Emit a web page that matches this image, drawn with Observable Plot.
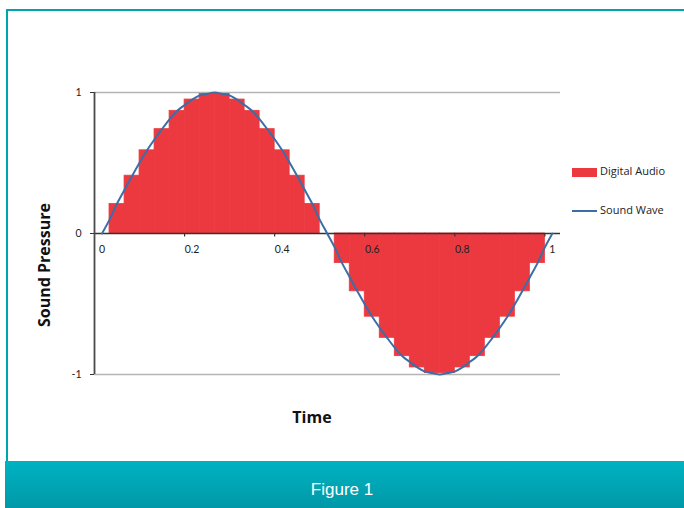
<!DOCTYPE html>
<html>
<head>
<meta charset="utf-8">
<script src="https://cdn.jsdelivr.net/npm/d3@7"></script>
<script src="https://cdn.jsdelivr.net/npm/@observablehq/plot@0.6"></script>
<style>
  body { margin: 0; background: #fff; }
  #wrap { position: relative; width: 684px; height: 508px; overflow: hidden; background: #fff; font-family: Lato, "Open Sans", sans-serif; }
  #frame { position: absolute; left: 6px; top: 9px; width: 700px; height: 470px; border-top: 2px solid #00a4b0; border-left: 2px solid #00a4b0; box-sizing: border-box; }
  #chart { position: absolute; left: 0; top: 0; }
  #band { position: absolute; left: 5px; top: 461px; width: 690px; height: 47px; background: linear-gradient(#00b3c1, #0098a8); color: #fff; font-family: "Liberation Sans", Arial, sans-serif; font-size: 17px; }
  #band span { position: absolute; left: 0; width: 684px; top: 19px; text-align: center; margin-left: -5px; }
  .ytitle { position: absolute; left: 44px; top: 265px; transform: translate(-50%, -50%) rotate(-90deg); font-family: "Open Sans", sans-serif; font-weight: bold; font-size: 16px; color: #111; white-space: nowrap; }
  .xtitle { position: absolute; left: 312px; top: 417px; transform: translate(-50%, -50%); font-family: "Open Sans", sans-serif; font-weight: bold; font-size: 16px; color: #111; white-space: nowrap; }
  .leg { position: absolute; left: 572px; font-family: "Open Sans", sans-serif; font-size: 11px; color: #222; white-space: nowrap; }
  .leg .sw { display: inline-block; width: 25px; vertical-align: middle; margin-right: 3px; }
</style>
</head>
<body>
<div id="wrap">
  <div id="frame"></div>
  <div id="chart"></div>
  <div class="ytitle">Sound Pressure</div>
  <div class="xtitle">Time</div>
  <div class="leg" style="top:163px"><span class="sw" style="height:9px;background:#ec3940"></span>Digital Audio</div>
  <div class="leg" style="top:202px"><span class="sw" style="height:2px;background:#3c6ea6"></span>Sound Wave</div>
  <div id="band"><span>Figure 1</span></div>
</div>
<script>
// Digital audio samples (time of sample, level)
const sampleTime = [0.0333, 0.0667, 0.1, 0.1333, 0.1667, 0.2, 0.2333, 0.2667, 0.3, 0.3333, 0.3667, 0.4, 0.4333, 0.4667,
                    0.5333, 0.5667, 0.6, 0.6333, 0.6667, 0.7, 0.7333, 0.7667, 0.8, 0.8333, 0.8667, 0.9, 0.9333, 0.9667];
const sampleLevel = [0.21, 0.41, 0.59, 0.74, 0.87, 0.95, 0.99, 0.99, 0.95, 0.87, 0.74, 0.59, 0.41, 0.21,
                     -0.21, -0.41, -0.59, -0.74, -0.87, -0.95, -0.99, -0.99, -0.95, -0.87, -0.74, -0.59, -0.41, -0.21];
const sampleWidth = 0.0333;

// Sound wave
const waveTime = [0, 0.017, 0.033, 0.05, 0.067, 0.083, 0.1, 0.117, 0.133, 0.15, 0.167, 0.183, 0.2, 0.217, 0.233,
                  0.25, 0.267, 0.283, 0.3, 0.317, 0.333, 0.35, 0.367, 0.383, 0.4, 0.417, 0.433, 0.45, 0.467, 0.483,
                  0.5, 0.517, 0.533, 0.55, 0.567, 0.583, 0.6, 0.617, 0.633, 0.65, 0.667, 0.683, 0.7, 0.717, 0.733,
                  0.75, 0.767, 0.783, 0.8, 0.817, 0.833, 0.85, 0.867, 0.883, 0.9, 0.917, 0.933, 0.95, 0.967, 0.983, 1];
const wavePressure = [0, 0.10, 0.21, 0.31, 0.41, 0.5, 0.59, 0.67, 0.74, 0.81, 0.87, 0.91, 0.95, 0.98, 0.99,
                      1, 0.99, 0.98, 0.95, 0.91, 0.87, 0.81, 0.74, 0.67, 0.59, 0.5, 0.41, 0.31, 0.21, 0.10,
                      0, -0.10, -0.21, -0.31, -0.41, -0.5, -0.59, -0.67, -0.74, -0.81, -0.87, -0.91, -0.95, -0.98, -0.99,
                      -1, -0.99, -0.98, -0.95, -0.91, -0.87, -0.81, -0.74, -0.67, -0.59, -0.5, -0.41, -0.31, -0.21, -0.10, 0];

const xTickLabels = [0, 0.2, 0.4, 0.6, 0.8, 1];
const yTickLabels = [-1, 0, 1];
const xStart = -0.0167, xEnd = 1.018;

const digital = sampleTime.map((t, i) => ({t, v: sampleLevel[i]}));
const wave = waveTime.map((t, i) => ({t, p: wavePressure[i]}));
const half = sampleWidth / 2;

const chart = Plot.plot({
  width: 684,
  height: 508,
  marginLeft: 94,
  marginRight: 124,
  marginTop: 92,
  marginBottom: 134,
  style: {background: "transparent", fontFamily: "Lato, 'Open Sans', sans-serif", overflow: "visible"},
  x: {domain: [xStart, xEnd], axis: null},
  y: {domain: [-1, 1], axis: null},
  marks: [
    Plot.ruleY([1, -1], {stroke: "#b4b4b4", strokeWidth: 1.6}),
    Plot.rect(digital, {x1: d => d.t - half, x2: d => d.t + half, y1: 0, y2: "v", fill: "#ec3940", stroke: "#ec3940", strokeWidth: 0.8, inset: 0}),
    Plot.ruleY([0], {stroke: "#333", strokeWidth: 1.4}),
    Plot.ruleX([xStart], {stroke: "#4a4a4a", strokeWidth: 1.8}),
    Plot.axisY({ticks: yTickLabels, tickSize: 4, tickPadding: 9, tickFormat: d => String(d), fontSize: 10.5, stroke: "#333", color: "#222"}),
    Plot.ruleX(xTickLabels.slice(1).map(d => d + xStart), {y1: 0, y2: -0.025, stroke: "#333", strokeWidth: 1.2}),
    Plot.text(xTickLabels, {x: d => d, y: 0, dy: 16, text: d => String(d), fontSize: 10.5, fill: "#222"}),
    Plot.line(wave, {x: "t", y: "p", stroke: "#3c6ea6", strokeWidth: 2, curve: "catmull-rom"})
  ]
});
document.getElementById("chart").appendChild(chart);
</script>
</body>
</html>
